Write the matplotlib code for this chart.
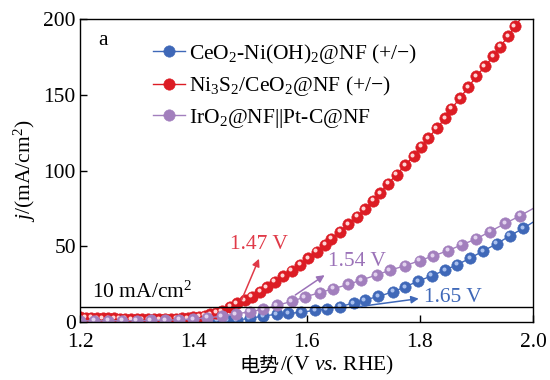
import numpy as np
import matplotlib
matplotlib.use('Agg')
import matplotlib.pyplot as plt
from matplotlib.transforms import ScaledTranslation

plt.rcParams['font.family'] = ['Liberation Serif', 'Noto Sans CJK SC']
plt.rcParams['mathtext.fontset'] = 'custom'
plt.rcParams['mathtext.rm'] = 'Liberation Serif'
plt.rcParams['mathtext.it'] = 'Liberation Serif:italic'
plt.rcParams['font.size'] = 15.5

# 曲线数据 (V vs. RHE, mA/cm2)
v_blue = [1.200, 1.222, 1.244, 1.266, 1.288, 1.310, 1.332, 1.354, 1.376, 1.398,
          1.420, 1.443, 1.460, 1.477, 1.500, 1.524, 1.547, 1.568, 1.591, 1.615,
          1.636, 1.659, 1.683, 1.703, 1.727, 1.753, 1.774, 1.797, 1.821, 1.845,
          1.866, 1.889, 1.912, 1.936, 1.959, 1.983, 2.000]
j_blue = [0.3, 0.3, 0.3, 0.3, 0.3, 0.3, 0.4, 0.4, 0.5, 0.6,
          0.7, 0.9, 1.0, 1.3, 2.4, 4.0, 5.1, 5.7, 6.4, 7.8,
          8.6, 10.1, 12.6, 14.6, 16.9, 20.0, 23.2, 27.0, 30.5, 34.4,
          37.9, 42.2, 47.0, 51.7, 57.0, 62.0, 66.0]

v_red = [1.200, 1.210, 1.220, 1.230, 1.240, 1.250, 1.260, 1.270, 1.280, 1.290,
         1.300, 1.310, 1.320, 1.330, 1.340, 1.350, 1.360, 1.370, 1.380, 1.390,
         1.400, 1.410, 1.420, 1.430, 1.440, 1.450, 1.465, 1.477, 1.491, 1.503,
         1.518, 1.530, 1.544, 1.559, 1.574, 1.589, 1.603, 1.618, 1.633, 1.644,
         1.659, 1.674, 1.689, 1.703, 1.718, 1.730, 1.744, 1.759, 1.774, 1.789,
         1.803, 1.815, 1.830, 1.845, 1.856, 1.871, 1.886, 1.900, 1.915, 1.930,
         1.942, 1.956, 1.968, 1.990]
j_red = [3.0, 2.9, 2.8, 2.7, 2.6, 2.5, 2.4, 2.3, 2.1, 2.0,
         1.9, 1.8, 1.7, 1.7, 1.7, 1.8, 1.9, 2.1, 2.4, 2.7,
         3.1, 3.6, 4.3, 5.1, 6.1, 7.3, 10.1, 12.4, 14.6, 16.8,
         20.0, 23.0, 26.7, 30.2, 34.0, 37.9, 42.2, 46.6, 51.0, 55.0,
         59.8, 64.8, 69.7, 74.5, 80.3, 85.0, 91.5, 97.4, 103.6, 109.5,
         115.8, 121.6, 128.0, 134.8, 141.0, 148.0, 155.4, 162.5, 169.0, 175.7,
         182.0, 189.0, 195.6, 206.0]

v_purple = [1.200, 1.225, 1.250, 1.275, 1.300, 1.325, 1.350, 1.375, 1.400, 1.425,
            1.450, 1.475, 1.500, 1.524, 1.547, 1.574, 1.597, 1.624, 1.647, 1.674,
            1.697, 1.724, 1.747, 1.774, 1.800, 1.824, 1.850, 1.874, 1.900, 1.924,
            1.951, 1.977, 2.000]
j_purple = [0.8, 0.8, 0.8, 0.9, 0.9, 1.0, 1.2, 1.5, 2.0, 2.8,
            3.8, 5.3, 6.8, 8.4, 11.0, 13.6, 16.6, 19.4, 22.0, 24.8,
            27.8, 31.1, 34.2, 37.2, 40.6, 43.7, 47.2, 51.0, 55.0, 59.8,
            65.2, 70.2, 75.0]

labels = ['CeO$_\\mathrm{2}$-Ni(OH)$_\\mathrm{2}$@NF (+/\u2212)',
          'Ni$_\\mathrm{3}$S$_\\mathrm{2}$/CeO$_\\mathrm{2}$@NF (+/\u2212)',
          'IrO$_\\mathrm{2}$@NF||Pt-C@NF']
colors = ['#3f68b8', '#dc1c24', '#a27fbd']
light = ['#a9c0ee', '#ffd6d6', '#e2d2ee']

fig = plt.figure(figsize=(5.5, 3.8), dpi=100)
ax = fig.add_axes([0.1455, 0.1526, 0.8236, 0.7961])

shine = ax.transData + ScaledTranslation(-1.4 / 100, 1.4 / 100, fig.dpi_scale_trans)

handles = {}
# 紫色在最下层, 红色在最上层
for k, (v, j) in [(2, (v_purple, j_purple)), (0, (v_blue, j_blue)), (1, (v_red, j_red))]:
    n = len(v)
    h, = ax.plot(v, j, '-', color=colors[k], lw=1.0, marker='o', ms=8.2,
                 mfc=colors[k], mec=colors[k], mew=0.4,
                 markevery=slice(0, n - 1), label=labels[k], zorder=2 + k * 0.1)
    ax.plot(v[:-1], j[:-1], 'o', ms=2.9, color=light[k], mew=0,
            transform=shine, zorder=2.05 + k * 0.1)
    handles[k] = h

ax.axhline(10, color='black', lw=1.0, zorder=3)

ax.set_xlim(1.2, 2.0)
ax.set_ylim(0, 200)
ax.set_xticks([1.2, 1.4, 1.6, 1.8, 2.0])
ax.set_yticks([0, 50, 100, 150, 200])
ax.tick_params(direction='in', length=5, width=1, top=False, right=False)
ax.tick_params(axis='x', pad=8)
ax.tick_params(axis='y', pad=3)
for s in ax.spines.values():
    s.set_linewidth(1.0)

ax.legend([handles[0], handles[1], handles[2]], labels, loc='upper left',
          bbox_to_anchor=(0.143, 0.955), frameon=False, handlelength=1.45,
          handletextpad=0.2, labelspacing=0.4, borderaxespad=0, fontsize=15.5)

ax.text(1.232, 186, 'a', fontsize=15.5, va='center', ha='left')
ax.text(1.222, 12.5, '10 mA/cm$^\\mathrm{2}$', fontsize=15.5, va='bottom', ha='left')

# 起始电位标注
ax.annotate('', xy=(1.518, 43.5), xytext=(1.483, 12.5),
            arrowprops=dict(arrowstyle='-|>', color='#e03a48', lw=1.1, mutation_scale=11))
ax.text(1.465, 51, '1.47 V', color='#e03a48', fontsize=15.5, ha='left', va='center')
ax.annotate('', xy=(1.636, 32), xytext=(1.576, 16.8),
            arrowprops=dict(arrowstyle='-|>', color='#9b72b8', lw=1.1, mutation_scale=11))
ax.text(1.638, 40, '1.54 V', color='#9b72b8', fontsize=15.5, ha='left', va='center')
ax.annotate('', xy=(1.803, 15.7), xytext=(1.689, 10),
            arrowprops=dict(arrowstyle='-|>', color='#3f68b8', lw=1.1, mutation_scale=11))
ax.text(1.807, 16.5, '1.65 V', color='#3f68b8', fontsize=15.5, ha='left', va='center')

ax.set_ylabel('$j$/(mA/cm$^\\mathrm{2}$)', fontsize=15.5, labelpad=4)

# 横轴标题: 中文 + 衬线体
t1 = fig.text(0.436, 0.022, '电势', fontsize=14.5, family='Noto Sans CJK SC',
              ha='left', va='baseline')
ax.annotate('/(V $\\mathit{vs}$. RHE)', xy=(1, 0), xycoords=t1,
            xytext=(0, 0), textcoords='offset points', va='bottom', ha='left',
            fontsize=15.5)

fig.savefig('out.png', dpi=100)
